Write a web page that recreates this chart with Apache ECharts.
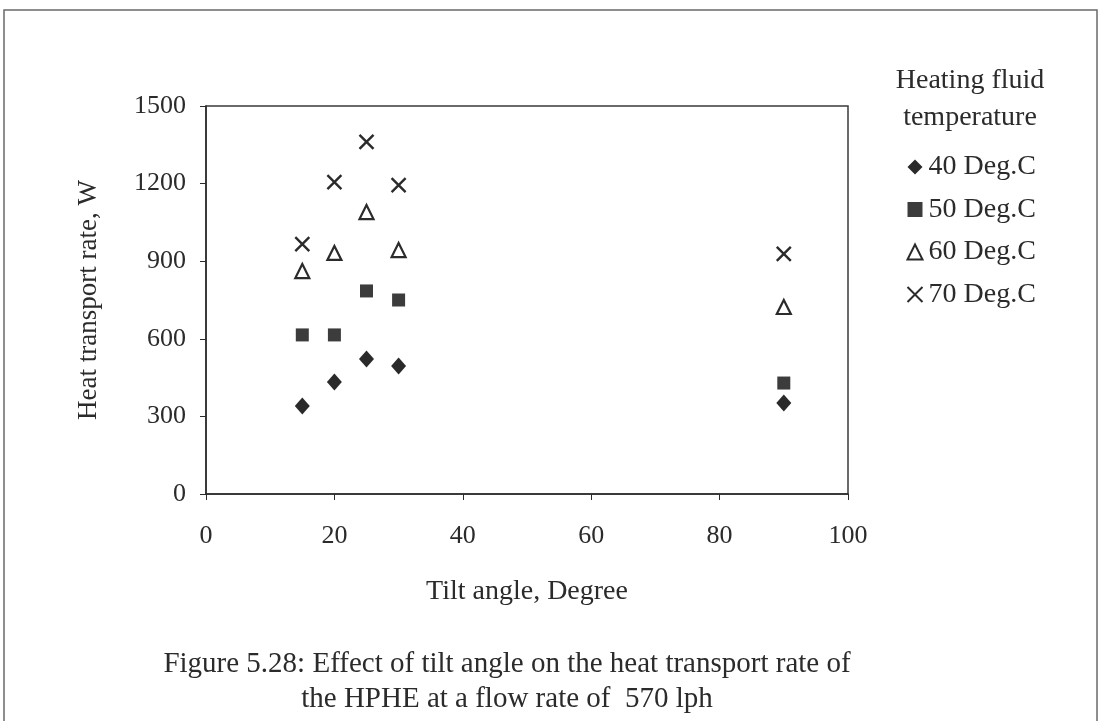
<!DOCTYPE html>
<html>
<head>
<meta charset="utf-8">
<script src="https://cdn.jsdelivr.net/npm/echarts@6/dist/echarts.min.js"></script>
<style>
  html, body { margin: 0; padding: 0; background: #ffffff; }
  #chart { width: 1101px; height: 721px; }
</style>
</head>
<body>
<div id="chart"></div>
<script>
// Tilt angle (degrees) at which heat transport rate was measured
const tiltAngles = [15, 20, 25, 30, 90];

// Heat transport rate (W) for each heating fluid temperature
const rate40 = [340, 433, 522, 495, 352];
const rate50 = [615, 615, 785, 750, 429];
const rate60 = [862, 932, 1090, 943, 723];
const rate70 = [966, 1206, 1361, 1194, 928];

const seriesNames = ['40 Deg.C', '50 Deg.C', '60 Deg.C', '70 Deg.C'];
const xTicks = { min: 0, max: 100, interval: 20 };
const yTicks = { min: 0, max: 1500, interval: 300 };

const FONT = '"Liberation Serif", "DejaVu Serif", serif';
const INK = '#2b2b2b';

const pairs = (vals) => tiltAngles.map((x, i) => [x, vals[i]]);
const crossPath = 'path://M0,0 L10,10 M10,0 L0,10';

const chart = echarts.init(document.getElementById('chart'));
chart.setOption({
  backgroundColor: '#ffffff',
  animation: false,
  textStyle: { fontFamily: FONT, color: INK },
  graphic: [
    {
      type: 'rect',
      shape: { x: 4, y: 10, width: 1093, height: 730 },
      style: { fill: 'none', stroke: '#6a6a6a', lineWidth: 1.5 },
      silent: true
    },
    {
      type: 'text',
      style: {
        x: 970, y: 62,
        text: 'Heating fluid\ntemperature',
        font: '28px ' + FONT,
        fill: INK,
        align: 'center',
        verticalAlign: 'top',
        lineHeight: 37
      }
    },
    {
      type: 'text',
      style: {
        x: 507, y: 647,
        text: 'Figure 5.28: Effect of tilt angle on the heat transport rate of\nthe HPHE at a flow rate of  570 lph',
        font: '29px ' + FONT,
        fill: INK,
        align: 'center',
        verticalAlign: 'top',
        lineHeight: 35
      }
    }
  ],
  grid: {
    left: 206, right: 253, top: 106, bottom: 227,
    show: true, borderColor: '#3a3a3a', borderWidth: 1.5,
    backgroundColor: 'transparent'
  },
  legend: {
    orient: 'vertical',
    left: 900, top: 148,
    itemGap: 14.5,
    itemWidth: 15, itemHeight: 15,
    textStyle: { fontFamily: FONT, fontSize: 28, lineHeight: 28, color: INK, padding: [0, 0, 0, 1] },
    data: seriesNames
  },
  xAxis: {
    type: 'value',
    min: xTicks.min, max: xTicks.max, interval: xTicks.interval,
    name: 'Tilt angle, Degree',
    nameLocation: 'middle', nameGap: 84,
    nameTextStyle: { fontFamily: FONT, fontSize: 28, color: INK },
    axisLine: { show: true, onZero: false, lineStyle: { color: '#2b2b2b', width: 1.5 } },
    axisTick: { show: true, length: 6, lineStyle: { color: '#2b2b2b' } },
    axisLabel: { fontFamily: FONT, fontSize: 26, color: INK, margin: 29 },
    splitLine: { show: false }
  },
  yAxis: {
    type: 'value',
    min: yTicks.min, max: yTicks.max, interval: yTicks.interval,
    name: 'Heat transport rate, W',
    nameLocation: 'middle', nameGap: 104,
    nameTextStyle: { fontFamily: FONT, fontSize: 27, color: INK },
    axisLine: { show: true, lineStyle: { color: '#2b2b2b', width: 1.5 } },
    axisTick: { show: true, length: 6, lineStyle: { color: '#2b2b2b' } },
    axisLabel: { fontFamily: FONT, fontSize: 26, color: INK, margin: 20, formatter: (v) => String(v) },
    splitLine: { show: false }
  },
  series: [
    {
      name: seriesNames[0], type: 'scatter', data: pairs(rate40),
      symbol: 'diamond', symbolSize: [15, 17],
      itemStyle: { color: '#2a2a2a', opacity: 1 }
    },
    {
      name: seriesNames[1], type: 'scatter', data: pairs(rate50),
      symbol: 'rect', symbolSize: 13,
      itemStyle: { color: '#3c3c3c', opacity: 1 }
    },
    {
      name: seriesNames[2], type: 'scatter', data: pairs(rate60),
      symbol: 'triangle', symbolSize: 14,
      itemStyle: { color: '#ffffff', borderColor: '#2b2b2b', borderWidth: 2.2, opacity: 1 }
    },
    {
      name: seriesNames[3], type: 'scatter', data: pairs(rate70),
      symbol: crossPath, symbolSize: 14,
      itemStyle: { color: 'none', borderColor: '#2b2b2b', borderWidth: 2.4, opacity: 1 }
    }
  ]
});
</script>
</body>
</html>
